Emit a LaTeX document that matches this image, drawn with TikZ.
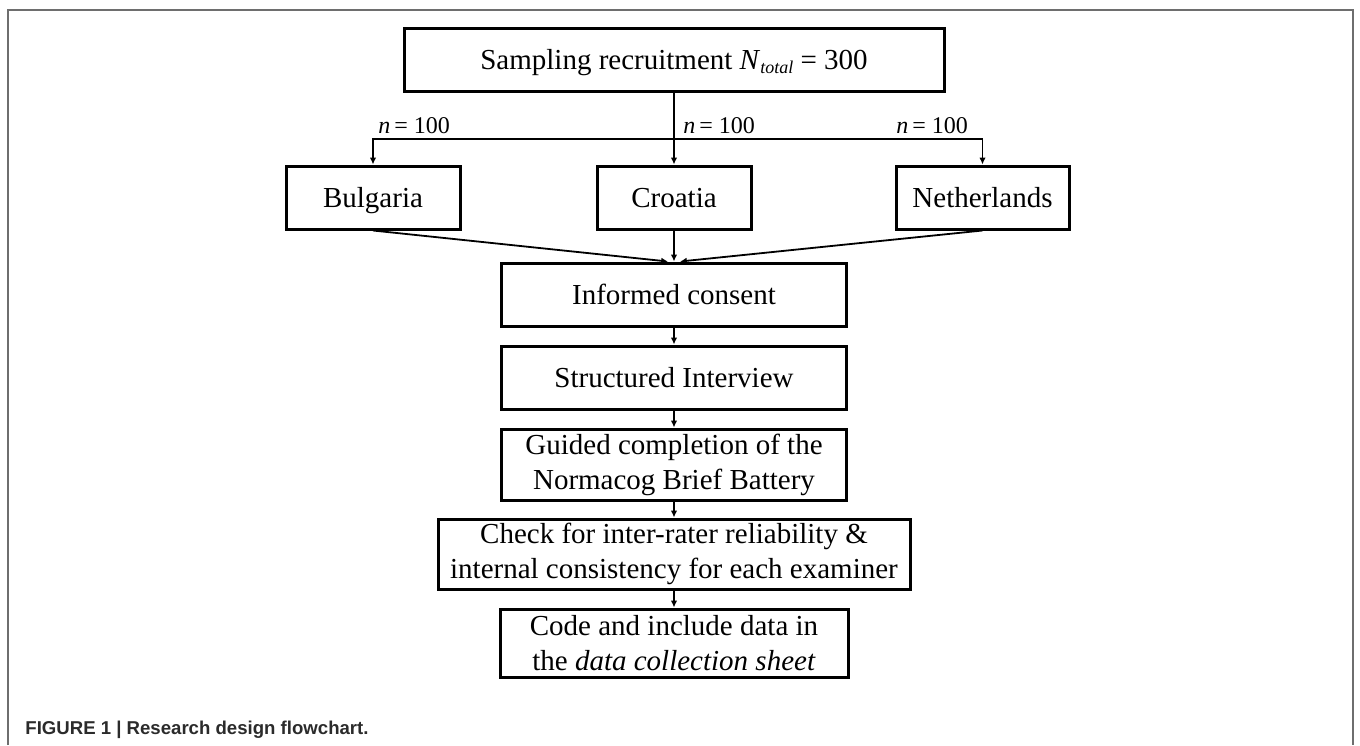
\documentclass[tikz,border=0pt]{standalone}
\usepackage{fontspec}
\setmainfont{Liberation Serif}
\newfontfamily\captionFont{Liberation Sans}
\usetikzlibrary{arrows.meta}
\newcommand{\boxLine}[0]{1.5pt}
\newcommand{\arrowLine}[0]{0.9pt}
\newcommand{\sampleSize}[0]{\textit{n}\,= 100}
\newcommand{\totalSize}[0]{\textit{N}\raisebox{-0.35ex}{\fontsize{9}{9}\selectfont\textit{total}} = 300}
\definecolor{framegray}{HTML}{6E6E6E}
\definecolor{captiongray}{HTML}{2B2B2B}

\begin{document}
\begin{tikzpicture}[x=0.5pt, y=-0.5pt]
  \tikzset{every node/.style={font=\fontsize{14.5}{17.5}\selectfont, inner sep=0pt, align=center},
    stage/.style={draw, line width=\boxLine, minimum height=31.5pt},
    oneline/.style={text height=12.6pt, text depth=3pt},
    sizelabel/.style={font=\fontsize{12}{14}\selectfont, anchor=base west},
    link/.style={line width=\arrowLine, ->, >={Latex[length=3.4pt,width=3.2pt]}}}
  \useasboundingbox (0,0) rectangle (1360,745);
  \draw[framegray, line width=0.6pt] (8,745) -- (8,10) -- (1353,10) -- (1353,745);
  \node[stage, oneline, minimum width=270pt] (recruit) at (674,59.5) {Sampling recruitment \totalSize};
  \node[stage, oneline, minimum width=87pt] (bulgaria) at (373,197.5) {Bulgaria};
  \node[stage, oneline, minimum width=77pt] (croatia) at (674,197.5) {Croatia};
  \node[stage, oneline, minimum width=86.5pt] (netherlands) at (982.5,197.5) {Netherlands};
  \node[stage, oneline, minimum width=172.5pt] (consent) at (674,294.5) {Informed consent};
  \node[stage, oneline, minimum width=172.5pt] (interview) at (674,377.5) {Structured Interview};
  \node[stage, minimum width=172.5pt, minimum height=35.5pt] (battery) at (674,464.5) {Guided completion of the\\Normacog Brief Battery};
  \node[stage, minimum width=236pt, minimum height=35pt] (check) at (674,554) {Check for inter-rater reliability \&\\internal consistency for each examiner};
  \node[stage, minimum width=174pt, minimum height=34pt] (code) at (674,643) {Code and include data in\\the \textit{data collection sheet}};
  \node[sizelabel] (n-1) at (378,133) {\sampleSize};
  \node[sizelabel] (n-2) at (683,133) {\sampleSize};
  \node[sizelabel] (n-3) at (896,133) {\sampleSize};
  \node[anchor=base west, font=\captionFont\bfseries\fontsize{9.3}{11}\selectfont, text=captiongray] (caption) at (25,734) {FIGURE 1 | Research design flowchart.};
  \coordinate (branch) at (674,139);
  \draw[link] (recruit) -- (croatia);
  \draw[link] (branch) -| (bulgaria);
  \draw[link] (branch) -| (netherlands);
  \draw[link] (bulgaria.south) -- ([xshift=-3pt]consent.north);
  \draw[link] (croatia) -- (consent);
  \draw[link] (netherlands.south) -- ([xshift=3pt]consent.north);
  \draw[link] (consent) -- (interview);
  \draw[link] (interview) -- (battery);
  \draw[link] (battery) -- (check);
  \draw[link] (check) -- (code);
\end{tikzpicture}
\end{document}
